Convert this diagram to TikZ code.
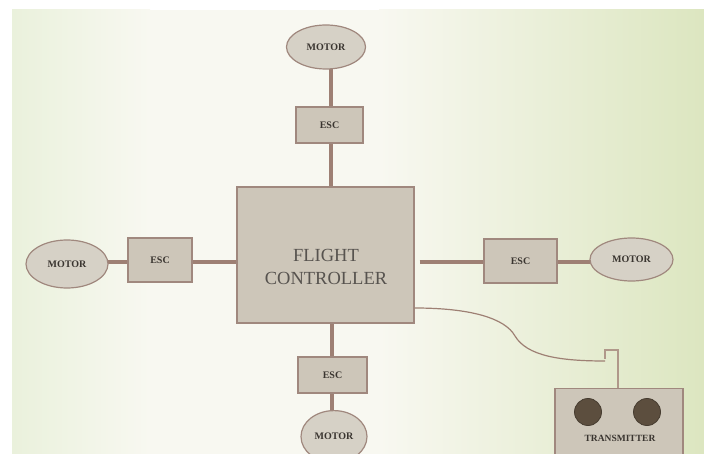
\documentclass[tikz,border=0pt]{standalone}
\usepackage{fontspec}
\setmainfont{Liberation Serif}
\usetikzlibrary{shapes.geometric,backgrounds}
\definecolor{boxfill}{RGB}{205,198,185}
\definecolor{boxline}{RGB}{160,136,126}
\definecolor{wire}{RGB}{158,128,116}
\definecolor{ellfill}{RGB}{214,209,198}
\definecolor{txt}{RGB}{58,53,48}
\definecolor{knob}{RGB}{92,78,62}
\definecolor{knobline}{RGB}{70,60,48}
\definecolor{antcol}{RGB}{176,152,138}
\definecolor{bgL}{RGB}{234,241,220}
\definecolor{bgM}{RGB}{248,248,241}
\definecolor{bgR}{RGB}{220,230,192}
\tikzset{
  motorell/.style={ellipse, draw=boxline, line width=1.2pt, fill=ellfill, inner sep=0pt,
    font=\fontsize{10}{12}\selectfont\bfseries, text=txt},
  escbox/.style={rectangle, draw=boxline, line width=1.2pt, fill=boxfill, inner sep=0pt,
    font=\fontsize{10}{12}\selectfont\bfseries, text=txt},
  wireline/.style={draw=wire, line width=3.5pt},
  thinwire/.style={draw=wire, line width=1.2pt},
  antline/.style={draw=antcol, line width=2.6pt},
  knobc/.style={circle, fill=knob, draw=knobline, line width=0.8pt, minimum size=27pt, inner sep=0pt},
}
\begin{document}
\begin{tikzpicture}[x=1pt,y=-1pt]
\clip (0,0) rectangle (704,454);
\useasboundingbox (0,0) rectangle (704,454);

% nodes
\node[motorell, minimum width=79pt, minimum height=44pt] (mt) at (326,47) {MOTOR};
\node[escbox, minimum width=67pt, minimum height=36pt] (et) at (329.5,125) {ESC};
\node[escbox, minimum width=177pt, minimum height=136pt] (fc) at (325.5,255) {};
\node[text=txt!85!white, font=\fontsize{18.5}{23}\selectfont, align=center, inner sep=0pt] (fclabel) at (326,267) {FLIGHT\\CONTROLLER};
\node[motorell, minimum width=82pt, minimum height=48pt] (lm) at (67,264) {MOTOR};
\node[escbox, minimum width=64pt, minimum height=44pt] (le) at (160,260) {ESC};
\node[escbox, minimum width=73pt, minimum height=44pt] (re) at (520.5,261) {ESC};
\node[motorell, minimum width=83pt, minimum height=43pt] (rm) at (631.5,259.5) {MOTOR};
\node[escbox, minimum width=69pt, minimum height=36pt] (be) at (332.5,375) {ESC};
\node[motorell, minimum width=66pt, minimum height=52pt, anchor=north] (bm) at (334,410) {\raisebox{-4pt}{MOTOR}};
\node[escbox, minimum width=128pt, minimum height=80pt, anchor=north] (tr) at (619,388) {};
\node[knobc] (k1) at (588,412) {};
\node[knobc] (k2) at (647,412) {};
\node[font=\fontsize{9.5}{11}\selectfont\bfseries, text=txt, inner sep=0pt] (trlabel) at (620,438) {TRANSMITTER};

\coordinate (tx) at (331,0);
\coordinate (bx) at (332,0);
\coordinate (ly) at (0,262);
\coordinate (ry) at (0,262);
\coordinate (cy) at (0,308);
\coordinate (ant) at (618,350);
\coordinate (hook) at (605,361);

\begin{scope}[on background layer]
  \fill[white] (0,0) rectangle (704,454);
  \shade[left color=bgL, right color=bgM] (12,10) rectangle (150,454);
  \fill[bgM] (149,10) rectangle (380,454);
  \shade[left color=bgM, right color=bgR] (379,10) rectangle (704,454);
  % wires
  \draw[wireline] (tx |- mt) -- (tx |- et);
  \draw[wireline] (tx |- et) -- (tx |- fc);
  \draw[wireline] (lm |- ly) -- (le |- ly);
  \draw[wireline] (le |- ly) -- (fc |- ly);
  \draw[wireline] ([xshift=5pt]fc.east |- ry) -- (re |- ry);
  \draw[wireline] (re |- ry) -- (rm |- ry);
  \draw[wireline] (bx |- fc) -- (bx |- be);
  \draw[wireline] (bx |- be) -- (bx |- bm);
  \draw[antline] (tr.north -| ant) -- (ant) -- ++(-13,0) -- ++(0,9);
\end{scope}
\draw[thinwire] (fc.east |- cy) .. controls (470,308) and (505,318) .. (515,336)
  .. controls (527,356) and (560,361) .. (hook);
\end{tikzpicture}
\end{document}
